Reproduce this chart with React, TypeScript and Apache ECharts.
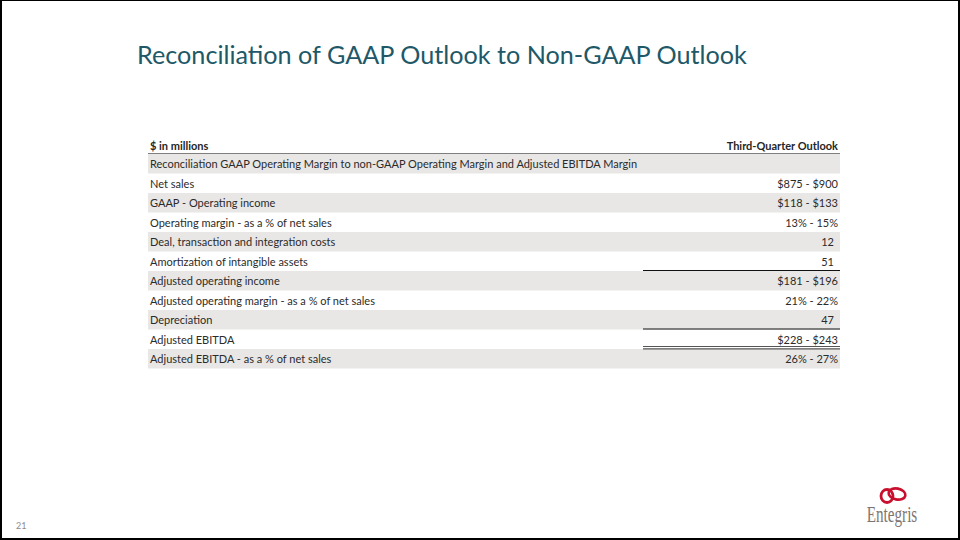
import React, { useEffect, useRef } from "react";
import * as echarts from "echarts";

const title = "Reconciliation of GAAP Outlook to Non-GAAP Outlook";
const headerLabel = "$ in millions";
const headerValue = "Third-Quarter Outlook";
const rowLabels = [
  "Reconciliation GAAP Operating Margin to non-GAAP Operating Margin and Adjusted EBITDA Margin",
  "Net sales",
  "GAAP - Operating income",
  "Operating margin - as a % of net sales",
  "Deal, transaction and integration costs",
  "Amortization of intangible assets",
  "Adjusted operating income",
  "Adjusted operating margin - as a % of net sales",
  "Depreciation",
  "Adjusted EBITDA",
  "Adjusted EBITDA - as a % of net sales",
];
const outlookValues = [
  "",
  "$875 - $900",
  "$118 - $133",
  "13% - 15%",
  "12",
  "51",
  "$181 - $196",
  "21% - 22%",
  "47",
  "$228 - $243",
  "26% - 27%",
];
// single-figure adjustments carry accounting padding
const paddedRows = [4, 5, 8];
// rule under row: 1 = single, 2 = double
const rowRules = [0, 0, 0, 0, 0, 1, 0, 0, 1, 2, 0];
const pageNumber = "21";
const logoText = "Entegris";

const FONT = "Lato, 'Open Sans', sans-serif";

export default function App() {
  const ref = useRef<HTMLDivElement>(null);
  useEffect(() => {
    if (!ref.current) return;
    const chart = echarts.init(ref.current, null, { renderer: "svg" });
    const left = 148;
    const right = 840;
    const top = 154;
    const rowH = 19.5;
    const els: any[] = [];
    // border
    els.push({ type: "rect", shape: { x: 0, y: 0, width: 2, height: 540 }, style: { fill: "#000" } });
    els.push({ type: "rect", shape: { x: 0, y: 0, width: 960, height: 1 }, style: { fill: "#000" } });
    els.push({ type: "rect", shape: { x: 958, y: 0, width: 2, height: 540 }, style: { fill: "#000" } });
    els.push({ type: "rect", shape: { x: 0, y: 538, width: 960, height: 2 }, style: { fill: "#000" } });
    // title
    els.push({
      type: "text",
      x: 137,
      y: 54,
      style: { text: title, font: `25.2px ${FONT}`, fill: "#215868", verticalAlign: "middle", textAlign: "left" },
    });
    // header
    els.push({
      type: "text", x: 150, y: 145,
      style: { text: headerLabel, font: `bold 11px ${FONT}`, fill: "#262626", verticalAlign: "middle" },
    });
    els.push({
      type: "text", x: 838, y: 145,
      style: { text: headerValue, font: `bold 11px ${FONT}`, fill: "#262626", verticalAlign: "middle", textAlign: "right" },
    });
    els.push({
      type: "line", shape: { x1: left, y1: 153.5, x2: right, y2: 153.5 },
      style: { stroke: "#7f7f7f", lineWidth: 1 },
    });
    rowLabels.forEach((lab, i) => {
      const y0 = top + i * rowH;
      if (i % 2 === 0) {
        els.push({ type: "rect", shape: { x: left, y: y0, width: right - left, height: rowH }, style: { fill: "#e8e7e5" } });
      }
      const cy = y0 + rowH / 2;
      els.push({
        type: "text", x: 150, y: cy,
        style: { text: lab, font: `11px ${FONT}`, fill: "#2b2b2b", verticalAlign: "middle" },
      });
      if (outlookValues[i]) {
        els.push({
          type: "text", x: paddedRows.includes(i) ? 834 : 838, y: cy,
          style: { text: outlookValues[i], font: `11px ${FONT}`, fill: "#2b2b2b", verticalAlign: "middle", textAlign: "right" },
        });
      }
    });
    rowRules.forEach((r, i) => {
      const yb = top + (i + 1) * rowH;
      if (r === 1) {
        els.push({ type: "line", shape: { x1: 643, y1: yb - 0.5, x2: right, y2: yb - 0.5 }, style: { stroke: "#111", lineWidth: 1 } });
      } else if (r === 2) {
        els.push({ type: "line", shape: { x1: 643, y1: yb - 2.5, x2: right, y2: yb - 2.5 }, style: { stroke: "#555", lineWidth: 1.2 } });
        els.push({ type: "line", shape: { x1: 643, y1: yb - 0.2, x2: right, y2: yb - 0.2 }, style: { stroke: "#555", lineWidth: 1.2 } });
      }
    });
    // page number
    els.push({
      type: "text", x: 16, y: 525,
      style: { text: pageNumber, font: `9px ${FONT}`, fill: "#8c8c8c", verticalAlign: "middle" },
    });
    // logo
    els.push({
      type: "ellipse", shape: { cx: 887, cy: 496, rx: 6, ry: 6.5 },
      style: { fill: "none", stroke: "#c8102e", lineWidth: 2.8 },
    });
    els.push({
      type: "ellipse", shape: { cx: 0, cy: 0, rx: 8.5, ry: 5.5 }, x: 897, y: 494, rotation: -0.2,
      style: { fill: "none", stroke: "#c8102e", lineWidth: 2.6 },
    });
    els.push({
      type: "text", x: 892, y: 514, scaleX: 0.66,
      style: { text: logoText, font: `23px 'Liberation Serif', serif`, fill: "#7d7571", verticalAlign: "middle", textAlign: "center" },
    });
    chart.setOption({ animation: false, graphic: { elements: els } });
    return () => chart.dispose();
  }, []);
  return (
    <div
      ref={ref}
      style={{ position: "fixed", left: 0, top: 0, width: 960, height: 540, background: "#fff" }}
    />
  );
}
